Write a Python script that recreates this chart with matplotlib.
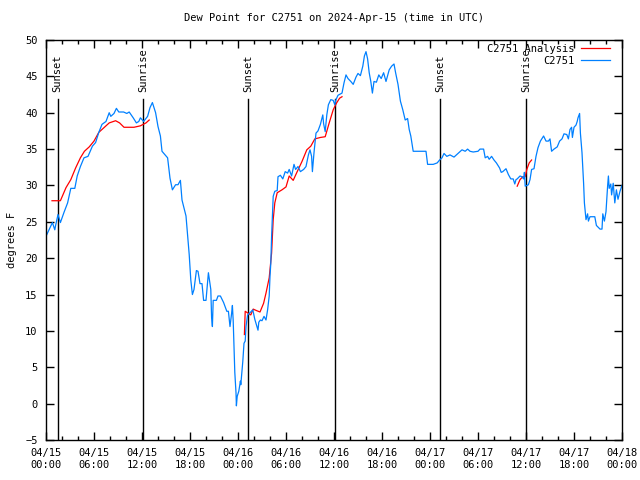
import matplotlib
matplotlib.use('Agg')
import matplotlib.pyplot as plt
from datetime import datetime, timedelta

# hours since 2024-04-15 00:00 UTC
start = datetime(2024, 4, 15)

obs_hours = [0.08, 0.8, 1.1, 1.2, 1.5, 1.8, 2.25, 2.7, 3.1, 3.6, 3.9, 4.3, 4.75, 5.25, 5.8,
             6.2, 6.6, 7.0, 7.5, 7.9, 8.1, 8.5, 8.8, 9.1, 9.7, 10.1, 10.4, 10.9, 11.3, 11.6,
             11.8, 12.2, 12.7, 13.0, 13.3, 13.7, 14.0, 14.3, 14.5, 15.2, 15.5, 15.8, 16.2,
             16.5, 16.8, 17.0, 17.5, 17.75, 17.9, 18.1, 18.3, 18.5, 18.8, 19.0, 19.25, 19.5,
             19.7, 20.0, 20.3, 20.6, 20.7, 20.8, 20.9, 21.3, 21.5, 21.8, 22.2, 22.6, 22.8,
             23.0, 23.2, 23.3, 23.4, 23.5, 23.6, 23.75, 23.8, 23.9, 24.1, 24.3, 24.35, 24.6,
             24.75, 24.9, 25.0, 25.2, 25.5, 25.85, 26.1, 26.5, 26.6, 26.8, 27.0, 27.25, 27.5,
             27.7, 27.9, 28.0, 28.1, 28.2, 28.3, 28.4, 28.6, 28.9, 29.0, 29.3, 29.6, 29.9,
             30.2, 30.4, 30.7, 31.0, 31.2, 31.5, 31.8, 32.2, 32.5, 32.8, 33.0, 33.2, 33.3,
             33.5, 33.75, 34.0, 34.3, 34.6, 34.7, 34.9, 35.1, 35.3, 35.6, 35.9, 36.1, 36.25,
             36.5, 37.0, 37.25, 37.5, 37.75, 38.1, 38.4, 38.75, 39.0, 39.3, 39.6, 39.8, 40.0,
             40.2, 40.4, 40.6, 40.8, 41.0, 41.3, 41.6, 41.9, 42.2, 42.5, 42.9, 43.2, 43.5,
             43.7, 44.0, 44.3, 44.6, 44.9, 45.2, 45.4, 45.6, 45.8, 45.9, 46.7, 47.5, 47.7,
             48.4, 48.9, 49.2, 49.5, 49.75, 50.1, 50.5, 51.0, 51.5, 52.0, 52.4, 52.7, 53.0,
             53.4, 54.0, 54.25, 54.7, 54.9, 55.2, 55.4, 55.7, 56.0, 56.3, 56.7, 56.9, 57.1,
             57.5, 57.8, 58.1, 58.4, 58.6, 58.75, 58.9, 59.25, 59.5, 59.7, 59.8, 59.9, 60.3,
             60.5, 60.7, 61.0, 61.25, 61.5, 61.8, 62.2, 62.5, 62.8, 63.0, 63.2, 63.5, 63.9,
             64.2, 64.5, 64.75, 65.1, 65.3, 65.5, 65.7, 65.8, 66.0, 66.25, 66.4, 66.5, 66.7,
             66.8, 67.0, 67.2, 67.3, 67.5, 67.7, 67.8, 68.0, 68.3, 68.6, 68.8, 69.25, 69.5,
             69.6, 69.8, 70.0, 70.2, 70.3, 70.4, 70.6, 70.7, 70.9, 71.1, 71.3, 71.5, 71.75,
             72.0]
obs_dewp = [23.2, 24.9, 23.9, 24.5, 26.0, 24.9, 26.3, 27.6, 29.6, 29.6, 31.3, 32.6, 33.8, 34.0, 35.4,
            35.9, 37.3, 38.4, 38.8, 40.0, 39.5, 39.9, 40.6, 40.1, 40.1, 39.9, 40.1, 39.3, 38.6, 38.8,
            39.3, 38.8, 39.5, 40.7, 41.4, 40.0, 38.1, 36.8, 34.7, 33.8, 31.0, 29.4, 30.1,
            30.1, 30.7, 28.0, 25.8, 22.5, 20.5, 17.0, 15.0, 15.7, 18.3, 18.2, 16.5, 16.5,
            14.2, 14.2, 18.0, 15.7, 11.8, 10.6, 14.2, 14.2, 14.8, 14.8, 13.9, 12.7, 12.7,
            10.6, 12.4, 13.5, 11.4, 7.9, 4.3, 1.5, -0.3, 1.0, 1.7, 3.1, 2.6, 5.8,
            8.3, 8.6, 10.6, 12.2, 12.5, 12.9, 11.6, 10.1, 11.2, 11.5, 11.4, 12.0, 11.5,
            12.9, 14.8, 17.5, 19.3, 23.0, 25.8, 28.5, 29.2, 29.3, 31.2, 31.4, 30.9, 31.9,
            31.7, 32.2, 31.3, 32.9, 32.2, 32.6, 31.9, 32.2, 32.6, 34.2, 34.9, 34.0, 31.9,
            34.5, 37.2, 37.5, 38.4, 39.7, 38.5, 37.4, 39.7, 41.1, 41.8, 41.7, 41.1, 41.8,
            42.4, 42.7, 44.1, 45.2, 44.7, 44.3, 43.9, 44.9, 45.4, 45.1, 46.4, 47.8, 48.4,
            47.4, 45.5, 44.3, 42.7, 44.3, 44.2, 45.2, 44.7, 45.5, 44.3, 45.9, 46.4, 46.7,
            45.5, 43.9, 41.6, 40.4, 39.0, 39.2, 37.7, 36.8, 35.4, 34.7, 34.7, 34.7, 32.9,
            32.9, 33.1, 33.5, 33.8, 34.4, 34.0, 34.2, 33.9, 34.4, 34.9, 34.7, 35.0, 34.7,
            34.6, 34.7, 35.0, 35.0, 33.8, 34.0, 33.6, 34.0, 33.5, 33.1, 32.4, 31.8, 31.9,
            32.3, 31.5, 30.9, 30.9, 30.2, 30.8, 30.9, 31.3, 31.2, 30.9, 31.8, 29.9, 30.1,
            30.8, 32.2, 32.3, 34.0, 35.2, 36.1, 36.8, 36.1, 36.1, 36.4, 34.7, 35.0, 35.3,
            36.1, 36.4, 37.1, 37.0, 36.4, 37.7, 38.0, 36.6, 38.0, 38.3, 38.8, 39.3, 39.9,
            37.2, 34.5, 30.3, 27.6, 25.3, 26.1, 25.1, 25.7, 25.7, 25.7, 24.5, 24.0, 24.0,
            26.1, 25.1, 26.4, 29.9, 31.3, 29.6, 30.2, 28.7, 30.3, 27.6, 29.4, 28.1, 29.2,
            30.0]

# analysis comes in three pieces
ana_hours = [[0.75, 1.8, 2.5, 3.1, 3.7, 4.3, 4.8, 5.4, 6.0, 6.6, 7.2, 7.9, 8.7, 9.2, 9.75,
              11.0, 11.8, 12.5, 12.9],
             [24.8, 24.9, 25.3, 25.6, 25.9, 26.3, 26.75, 27.2, 27.5, 27.9, 28.2, 28.4, 28.6,
              28.9, 29.5, 30.0, 30.4, 30.9, 31.4, 32.0, 32.6, 33.1, 33.6, 34.3, 34.9, 35.4,
              35.9, 36.3, 36.7, 37.0],
             [58.9, 59.25, 59.6, 59.9, 60.1, 60.4, 60.7]]
ana_dewp = [[27.9, 27.9, 29.7, 30.8, 32.4, 33.8, 34.7, 35.3, 36.1, 37.3, 37.9, 38.6, 38.9, 38.6, 38.0,
             38.0, 38.2, 38.6, 39.0],
            [9.5, 12.7, 12.4, 12.2, 13.0, 12.8, 12.6, 13.8, 15.2, 17.3, 20.7, 25.3, 27.6,
             29.0, 29.4, 29.8, 31.3, 30.7, 31.9, 33.3, 34.9, 35.4, 36.4, 36.6, 36.7, 38.6,
             40.4, 41.3, 42.0, 42.2],
            [29.9, 30.8, 31.2, 31.2, 32.2, 33.1, 33.5]]

sun_hours = [1.45, 12.1, 25.3, 36.1, 49.25, 60.05]
sun_labels = ['Sunset', 'Sunrise', 'Sunset', 'Sunrise', 'Sunset', 'Sunrise']

plt.rcParams['font.family'] = ['DejaVu Sans Mono']
plt.rcParams['font.size'] = 7.5

fig = plt.figure(figsize=(6.4, 4.8), dpi=100)
ax = fig.add_axes([46 / 640, 40 / 480, 576 / 640, 400 / 480])

for h, lab in zip(sun_hours, sun_labels):
    ax.plot([h, h], [-5, 41.9], color='black', lw=1.0)
    ax.text(h, 42.9, lab, rotation=90, ha='center', va='bottom')

for i, (hh, vv) in enumerate(zip(ana_hours, ana_dewp)):
    ax.plot(hh, vv, color='red', lw=0.9, label='C2751 Analysis' if i == 0 else None)
ax.plot(obs_hours, obs_dewp, color='#0080ff', lw=0.9, label='C2751')

ax.set_xlim(0, 72)
ax.set_ylim(-5, 50)
ax.set_yticks(range(-5, 51, 5))
major = list(range(0, 73, 6))
ax.set_xticks(major)
ax.set_xticklabels([(start + timedelta(hours=h)).strftime('%m/%d\n%H:%M') for h in major])
ax.set_xticks(range(0, 73, 2), minor=True)
ax.tick_params(which='both', direction='in', top=True, right=True, width=1.0)
ax.tick_params(which='major', length=6, pad=6)
ax.tick_params(which='minor', length=3)
for s in ax.spines.values():
    s.set_linewidth(1.0)

ax.set_ylabel('degrees F', labelpad=6)
ax.set_title('Dew Point for C2751 on 2024-Apr-15 (time in UTC)', fontsize=7.5, pad=14)
ax.legend(loc='upper right', bbox_to_anchor=(1 - 12 / 576, 1 - 4 / 400), frameon=False,
          markerfirst=False, handlelength=2.8, labelspacing=0.15, borderaxespad=0,
          borderpad=0, handletextpad=0.6)

fig.savefig('out.png', dpi=100)
